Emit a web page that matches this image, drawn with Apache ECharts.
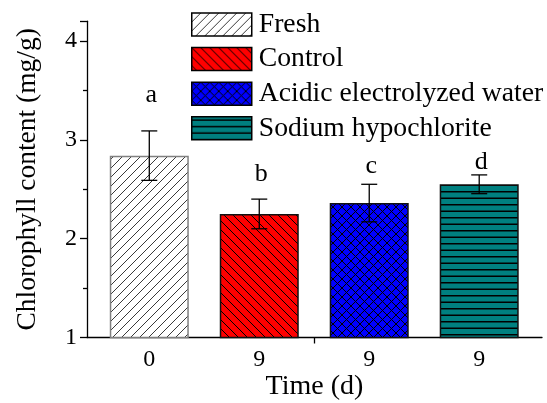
<!DOCTYPE html>
<html>
<head>
<meta charset="utf-8">
<script src="https://cdn.jsdelivr.net/npm/echarts@6/dist/echarts.min.js"></script>
<style>
html,body{margin:0;padding:0;background:#fff;}
#chartmain{width:547px;height:403px;}
</style>
</head>
<body>
<div id="chartmain"></div>
<script>
// 数据
var treatments = ['Fresh', 'Control', 'Acidic electrolyzed water', 'Sodium hypochlorite'];
var timeLabels = ['0', '9', '9', '9'];
var chlorophyll = [2.84, 2.25, 2.36, 2.55];
var chlorophyllSd = [0.25, 0.15, 0.19, 0.095];
var sigLetters = ['a', 'b', 'c', 'd'];
var letterPos = [3.45, 2.65, 2.73, 2.77];
var yTicks = [1, 2, 3, 4];

var font = "'Liberation Serif','Times New Roman',serif";

//填充图案
function hatch(bg, kind){
	var c = document.createElement('canvas');
	var w = 9, h = kind === 'h' ? 13 : 9;
	c.width = w; c.height = h;
	var g = c.getContext('2d');
	g.fillStyle = bg; g.fillRect(0, 0, w, h);
	g.strokeStyle = kind === '/' ? '#222' : '#000';
	g.lineWidth = kind === 'h' ? 1.5 : (kind === '/' ? 0.9 : 1);
	g.beginPath();
	var k;
	if (kind === '/' || kind === 'x') {
		for (k = -w; k <= w; k += w) { g.moveTo(k, h); g.lineTo(k + w, 0); }
	}
	if (kind === '\\' || kind === 'x') {
		for (k = -w; k <= w; k += w) { g.moveTo(k, 0); g.lineTo(k + w, h); }
	}
	if (kind === 'h') {
		g.moveTo(0, 3.25); g.lineTo(w, 3.25);
		g.moveTo(0, 9.75); g.lineTo(w, 9.75);
	}
	g.stroke();
	return {image: c, repeat: 'repeat'};
}

var fills = [hatch('#ffffff', '/'), hatch('#ff0000', '\\'), hatch('#0000ff', 'x'), hatch('#008080', 'h')];
var edges = ['#808080', '#111', '#111', '#111'];

var series = treatments.map(function(name, i){
	return {
		name: name,
		type: 'bar',
		xAxisIndex: 1,
		yAxisIndex: 1,
		barWidth: 79,
		barGap: '-100%',
		data: chlorophyll.map(function(v, j){ return j === i ? v : '-'; }),
		itemStyle: {color: fills[i], borderColor: edges[i], borderWidth: 1.5}
	};
});

//误差线
series.push({
	type: 'custom',
	xAxisIndex: 1,
	yAxisIndex: 1,
	silent: true,
	z: 5,
	data: chlorophyll.map(function(v, i){ return [i, v - chlorophyllSd[i], v + chlorophyllSd[i]]; }),
	renderItem: function(params, api){
		var lo = api.coord([api.value(0), api.value(1)]);
		var hi = api.coord([api.value(0), api.value(2)]);
		var hw = 8;
		var st = {stroke: '#000', lineWidth: 1.3};
		return {type: 'group', children: [
			{type: 'line', shape: {x1: hi[0], y1: hi[1], x2: lo[0], y2: lo[1]}, style: st},
			{type: 'line', shape: {x1: hi[0] - hw, y1: hi[1], x2: hi[0] + hw, y2: hi[1]}, style: st},
			{type: 'line', shape: {x1: lo[0] - hw, y1: lo[1], x2: lo[0] + hw, y2: lo[1]}, style: st}
		]};
	}
});

//显著性字母
series.push({
	type: 'custom',
	xAxisIndex: 1,
	yAxisIndex: 1,
	silent: true,
	z: 6,
	data: letterPos.map(function(v, i){ return [i, v]; }),
	renderItem: function(params, api){
		var p = api.coord([api.value(0), api.value(1)]);
		return {type: 'text', x: p[0] + 2, y: p[1], style: {
			text: sigLetters[params.dataIndex], fontSize: 26, fontFamily: font,
			fill: '#000', align: 'center', verticalAlign: 'middle'
		}};
	}
});

var myChart = echarts.init(document.getElementById('chartmain'));
myChart.setOption({
	animation: false,
	backgroundColor: '#fff',
	legend: {
		data: treatments,
		orient: 'vertical',
		left: 191,
		top: 10.5,
		padding: 0,
		itemWidth: 60,
		itemHeight: 23,
		itemGap: 6.6,
		icon: 'rect',
		itemStyle: {borderColor: '#000', borderWidth: 1.5},
		textStyle: {fontSize: 27.7, fontFamily: font, color: '#000', padding: [0, 0, 0, 2]},
		selectedMode: false
	},
	grid: [
		{left: 87, right: 5, top: 21.2, bottom: 65.5, outerBoundsMode: 'none'},
		{left: 94.3, right: 12.8, top: 21.2, bottom: 65.5, outerBoundsMode: 'none'}
	],
	xAxis: [
		{
			gridIndex: 0,
			type: 'category',
			boundaryGap: false,
			data: ['start', 'mid', 'end'],
			name: 'Time (d)',
			nameLocation: 'middle',
			nameGap: 35,
			nameMoveOverlap: false,
			nameTextStyle: {fontSize: 28, fontFamily: font, color: '#000'},
			axisLine: {lineStyle: {color: '#000', width: 1.3}},
			axisTick: {interval: function(i){ return i === 1; }, length: 6, lineStyle: {color: '#000', width: 1.3}},
			axisLabel: {show: false},
			splitLine: {show: false}
		},
		{
			gridIndex: 1,
			type: 'category',
			data: treatments,
			axisLine: {show: false},
			axisTick: {show: false},
			axisLabel: {
				formatter: function(v, i){ return timeLabels[i]; },
				fontSize: 24, fontFamily: font, color: '#000', margin: 10
			},
			splitLine: {show: false}
		}
	],
	yAxis: [
		{
			gridIndex: 0,
			type: 'value',
			min: yTicks[0],
			max: 4.2,
			interval: yTicks[1] - yTicks[0],
			name: 'Chlorophyll content (mg/g)',
			nameLocation: 'middle',
			nameGap: 45,
			nameMoveOverlap: false,
			nameTextStyle: {fontSize: 27.5, fontFamily: font, color: '#000'},
			axisLine: {show: true, lineStyle: {color: '#000', width: 1.3}},
			axisTick: {show: true, length: 7, lineStyle: {color: '#000', width: 1.3}},
			minorTick: {show: true, splitNumber: 2, length: 4, lineStyle: {color: '#000', width: 1.3}},
			axisLabel: {
				fontSize: 24, fontFamily: font, color: '#000', margin: 10,
				formatter: function(v){ return yTicks.indexOf(v) >= 0 ? String(v) : ''; }
			},
			splitLine: {show: false}
		},
		{gridIndex: 1, type: 'value', min: yTicks[0], max: 4.2, show: false}
	],
	series: series
});
</script>
</body>
</html>
